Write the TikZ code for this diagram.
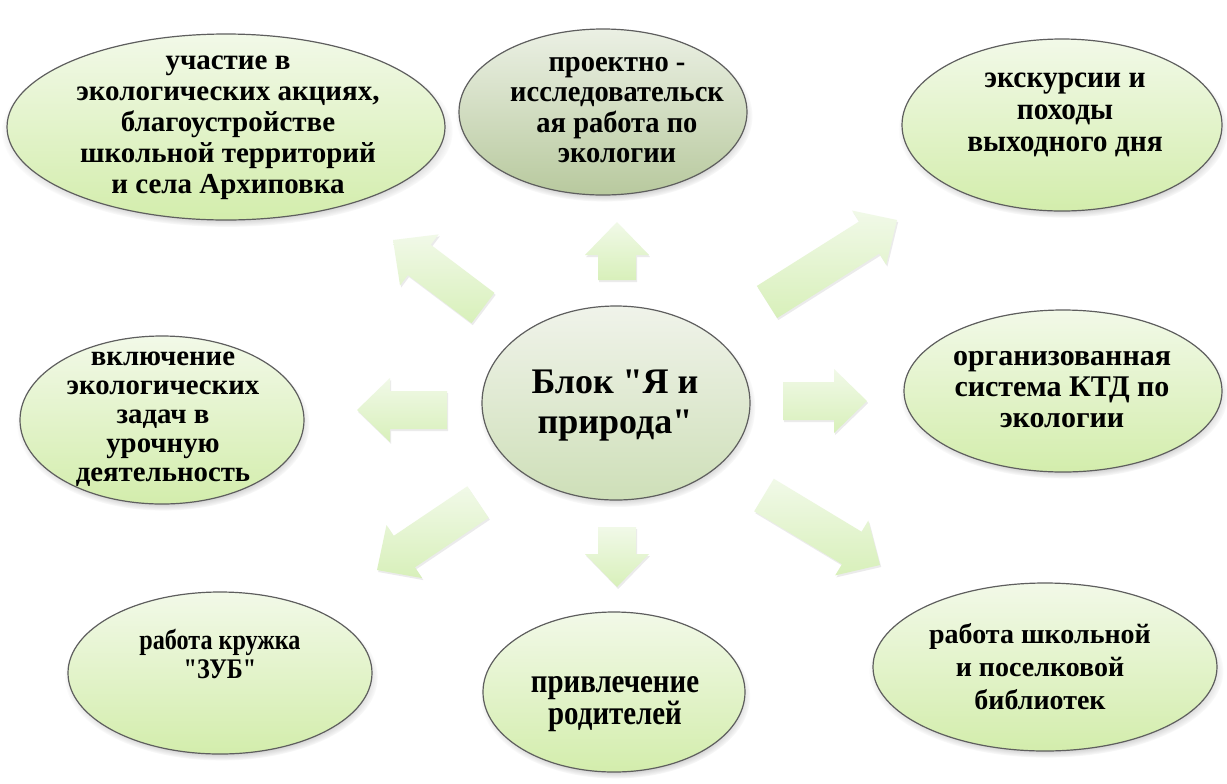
\documentclass[tikz,border=0pt]{standalone}
\usepackage{fontspec}
\setmainfont{Liberation Serif}
\newfontfamily\normf{Liberation Serif}
\newfontfamily\condf[FakeStretch=0.85]{Liberation Serif}
\newfontfamily\condg[FakeStretch=0.95]{Liberation Serif}
\usetikzlibrary{shapes.geometric,calc,shadows,fadings}
\definecolor{bordc}{HTML}{5E5E5E}
\definecolor{btop}{HTML}{F2F9E8}
\definecolor{bbot}{HTML}{D3EDAC}
\definecolor{gtop}{HTML}{EBF0E4}
\definecolor{gbot}{HTML}{B8C99E}
\definecolor{ctop}{HTML}{F0F3EA}
\definecolor{cbot}{HTML}{CEDFB8}
\definecolor{atop}{HTML}{F1F9E8}
\definecolor{abot}{HTML}{D8F0BA}
\tikzset{
  bub/.style={ellipse, draw=bordc, line width=0.6pt, top color=btop, bottom color=bbot,
    inner sep=0pt, circular drop shadow={shadow xshift=0.6pt, shadow yshift=-2pt, shadow scale=1.03, opacity=0.45, fill=black!70}},
  lbl/.style={align=center, inner sep=0pt, text=black},
  arrowfill/.style={top color=atop, bottom color=abot, draw=none,
    drop shadow={shadow xshift=0.6pt, shadow yshift=-1pt, opacity=0.08, fill=black}},
}
\newcommand\bubble[6]{\node[bub, minimum width={#4*0.5pt}, minimum height={#5*0.5pt}, #6] (#1) at (#2,#3) {};}
\newcommand\blockarr[2]{%
  \path ($(#2)!16.5pt!(#1)$) coordinate (ab);
  \path[arrowfill] ($(#1)!9.5pt!90:(#2)$) -- ($(ab)!9.5pt!90:(#2)$) -- ($(ab)!16pt!90:(#2)$) -- (#2)
    -- ($(ab)!16pt!-90:(#2)$) -- ($(ab)!9.5pt!-90:(#2)$) -- ($(#1)!9.5pt!-90:(#2)$) -- cycle;}
\begin{document}
\begin{tikzpicture}[x=0.5pt,y=-0.5pt]
\useasboundingbox (0,0) rectangle (1227,783);
\fill[white] (0,0) rectangle (1227,783);
% ellipses
\bubble{e1}{226}{127}{438}{186}{}
\bubble{e2}{603}{112}{288}{166}{top color=gtop, bottom color=gbot}
\bubble{e3}{1062}{125}{320}{172}{}
\bubble{e4}{162}{420}{284}{168}{}
\bubble{e5}{616}{403}{268}{194}{top color=ctop, bottom color=cbot}
\bubble{e6}{1063}{391}{318}{162}{}
\bubble{e7}{220}{673}{304}{162}{}
\bubble{e8}{614}{692}{262}{160}{}
\bubble{e9}{1045}{667}{344}{168}{}
% arrows
\coordinate (a1t) at (483,308); \coordinate (a1h) at (393,240);
\coordinate (a2t) at (617,280); \coordinate (a2h) at (617,222);
\coordinate (a3t) at (767,302); \coordinate (a3h) at (897,220);
\coordinate (a4t) at (447,410); \coordinate (a4h) at (357,410);
\coordinate (a5t) at (783,401); \coordinate (a5h) at (867,401);
\coordinate (a6t) at (478,502); \coordinate (a6h) at (377,570);
\coordinate (a7t) at (617,527); \coordinate (a7h) at (617,587);
\coordinate (a8t) at (764,495); \coordinate (a8h) at (880,565);
\blockarr{a1t}{a1h}
\blockarr{a2t}{a2h}
\blockarr{a3t}{a3h}
\blockarr{a4t}{a4h}
\blockarr{a5t}{a5h}
\blockarr{a6t}{a6h}
\blockarr{a7t}{a7h}
\blockarr{a8t}{a8h}
% texts
\node[lbl, font=\normf\bfseries\fontsize{14.5}{15.5}\selectfont] (t1) at (228,128)
  {участие в\\экологических акциях,\\благоустройстве\\школьной территорий\\и села Архиповка};
\node[lbl, font=\condg\bfseries\fontsize{15}{15.2}\selectfont] (t2) at (617,110)
  {проектно -\\исследовательск\\ая работа по\\экологии};
\node[lbl, font=\condg\bfseries\fontsize{15.5}{16}\selectfont] (t3) at (1065,115)
  {экскурсии и\\походы\\выходного дня};
\node[lbl, font=\normf\bfseries\fontsize{14.4}{14.5}\selectfont] (t4) at (163,419)
  {включение\\экологических\\задач в\\урочную\\деятельность};
\node[lbl, font=\normf\bfseries\fontsize{18}{20}\selectfont] (t5) at (615,406)
  {Блок "Я и\\природа"};
\node[lbl, font=\normf\bfseries\fontsize{15}{15.5}\selectfont] (t6) at (1062,390)
  {организованная\\система КТД по\\экологии};
\node[lbl, font=\condf\bfseries\fontsize{14.2}{14.5}\selectfont] (t7) at (220,654)
  {работа кружка\\"ЗУБ"};
\node[lbl, font=\condf\bfseries\fontsize{17}{14.5}\selectfont] (t8) at (615,704)
  {привлечение\\родителей};
\node[lbl, font=\normf\bfseries\fontsize{14}{16.5}\selectfont] (t9) at (1040,667)
  {работа школьной\\и поселковой\\библиотек};
\end{tikzpicture}
\end{document}
